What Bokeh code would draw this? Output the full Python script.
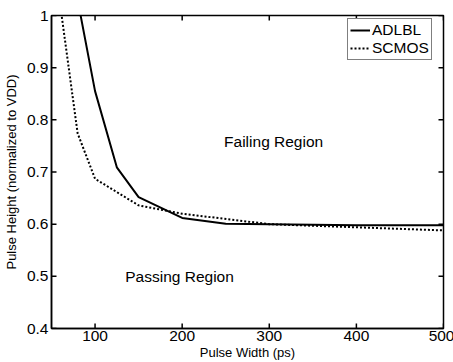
from bokeh.plotting import figure
from bokeh.models import Range1d, FixedTicker, Legend, LegendItem, Label
from bokeh.embed import file_html
from bokeh.resources import INLINE

# Data
adlbl_x = [80, 100, 125, 150, 200, 250, 300, 400, 500]
adlbl_y = [1.03, 0.855, 0.709, 0.652, 0.612, 0.601, 0.600, 0.598, 0.598]
scmos_x = [60, 80, 100, 150, 200, 300, 400, 500]
scmos_y = [1.02, 0.774, 0.687, 0.636, 0.620, 0.600, 0.594, 0.588]
x_ticks = [100, 200, 300, 400, 500]
y_ticks = [0.4, 0.5, 0.6, 0.7, 0.8, 0.9, 1.0]

FONT = "Liberation Sans"
X0, X1, Y0, Y1 = 50, 500, 0.4, 1.0
FW, FH = 392, 313

p = figure(frame_width=FW, frame_height=FH, output_backend="svg",
           toolbar_location=None,
           x_range=Range1d(X0, X1), y_range=Range1d(Y0, Y1),
           min_border_left=50, min_border_right=11, min_border_top=15,
           min_border_bottom=34, x_axis_label="Pulse Width (ps)",
           y_axis_label="Pulse Height (normalized to VDD)")
p.grid.visible = False
p.outline_line_color = "black"
p.outline_line_width = 1.5
p.background_fill_color = "white"
p.border_fill_color = "white"

for ax, ticks in ((p.xaxis[0], x_ticks), (p.yaxis[0], y_ticks)):
    ax.ticker = FixedTicker(ticks=ticks)
    ax.axis_line_color = "black"
    ax.axis_line_width = 1.5
    ax.major_tick_in = 0
    ax.major_tick_out = 0
    ax.minor_tick_line_color = None
    ax.major_label_text_font = FONT
    ax.major_label_text_color = "black"
    ax.major_label_text_font_size = "15.5px"
    ax.major_label_standoff = 3
    ax.axis_label_text_font = FONT
    ax.axis_label_text_font_size = "13px"
    ax.axis_label_text_font_style = "normal"
    ax.axis_label_text_color = "black"
p.xaxis[0].major_label_standoff = 2
p.xaxis[0].axis_label_standoff = 1
p.yaxis[0].axis_label_standoff = 5
p.yaxis[0].major_label_overrides = {1.0: "1"}

# inward tick marks on all four sides (MATLAB box style), 5 px long
tx = 5 * (X1 - X0) / FW
ty = 5 * (Y1 - Y0) / FH
p.segment(x0=x_ticks, x1=x_ticks, y0=[Y0] * len(x_ticks), y1=[Y0 + ty] * len(x_ticks),
          line_color="black", line_width=1.5)
p.segment(x0=x_ticks, x1=x_ticks, y0=[Y1] * len(x_ticks), y1=[Y1 - ty] * len(x_ticks),
          line_color="black", line_width=1.5)
p.segment(x0=[X0] * len(y_ticks), x1=[X0 + tx] * len(y_ticks), y0=y_ticks, y1=y_ticks,
          line_color="black", line_width=1.5)
p.segment(x0=[X1] * len(y_ticks), x1=[X1 - tx] * len(y_ticks), y0=y_ticks, y1=y_ticks,
          line_color="black", line_width=1.5)

r1 = p.line(adlbl_x, adlbl_y, line_color="black", line_width=2)
r2 = p.line(scmos_x, scmos_y, line_color="black", line_width=2, line_dash="2 2")

legend = Legend(items=[LegendItem(label="ADLBL", renderers=[r1]),
                       LegendItem(label="SCMOS", renderers=[r2])],
                location=(296, 268), margin=0, padding=2, spacing=0,
                glyph_width=20, glyph_height=16, label_height=16,
                label_standoff=2, label_text_font=FONT,
                label_text_font_size="15.5px", label_text_color="black",
                border_line_color="black", border_line_width=1,
                background_fill_color="white", background_fill_alpha=1)
p.add_layout(legend)

p.add_layout(Label(x=305, y=0.759, text="Failing Region", text_align="center",
                   text_baseline="alphabetic", text_font=FONT,
                   text_font_size="15.5px", text_color="black"))
p.add_layout(Label(x=197, y=0.500, text="Passing Region", text_align="center",
                   text_baseline="alphabetic", text_font=FONT,
                   text_font_size="15.5px", text_color="black"))

open("out.html", "w").write(file_html(p, INLINE))
